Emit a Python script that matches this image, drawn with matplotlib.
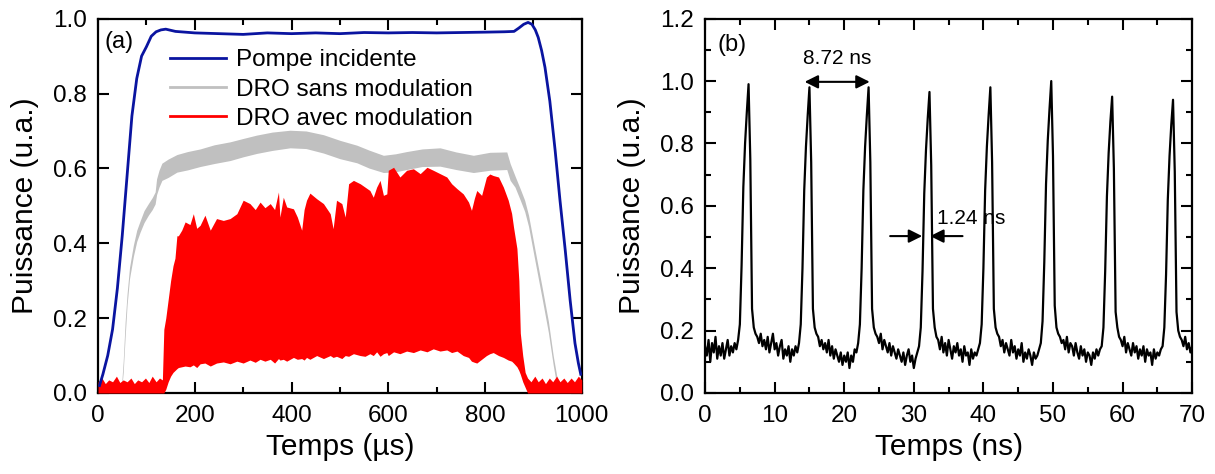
import numpy as np
import matplotlib
matplotlib.use('Agg')
import matplotlib.pyplot as plt
from matplotlib.lines import Line2D
from matplotlib.ticker import MultipleLocator, FormatStrFormatter

plt.rcParams['font.family'] = ['Liberation Sans', 'DejaVu Sans']

# ---------------- Panel (a) data ----------------
pump_t = [3, 10, 20, 30, 40, 50, 60, 70, 80, 90,
          100, 110, 120, 130, 140, 160, 200, 250, 300, 350,
          400, 450, 500, 550, 600, 650, 700, 750, 800, 840,
          860, 870, 880, 889, 897, 904, 910, 917, 924, 934,
          945, 955, 966, 976, 986, 993, 998]
pump_p = [0.02, 0.05, 0.1, 0.17, 0.28, 0.42, 0.58, 0.74, 0.84, 0.9,
          0.925, 0.953, 0.965, 0.97, 0.972, 0.966, 0.962, 0.96, 0.958, 0.962,
          0.96, 0.962, 0.96, 0.963, 0.962, 0.963, 0.962, 0.963, 0.964, 0.965,
          0.966, 0.975, 0.985, 0.99, 0.985, 0.97, 0.95, 0.915, 0.87, 0.78,
          0.648, 0.515, 0.38, 0.248, 0.133, 0.08, 0.05]

dro_t = [48, 52, 56, 60, 65, 73, 80, 87, 95, 104,
         112, 118, 121, 126, 132, 145, 163, 185, 211, 240,
         273, 300, 328, 360, 397, 430, 466, 500, 535, 560,
         590, 615, 638, 670, 707, 740, 776, 810, 845, 852,
         862, 873, 882, 890, 903, 917, 931, 941, 948, 953]
dro_lo = [0.0, 0.055, 0.15, 0.235, 0.305, 0.365, 0.405, 0.43, 0.455, 0.475,
          0.49, 0.505, 0.53, 0.55, 0.568, 0.576, 0.59, 0.596, 0.605, 0.613,
          0.621, 0.631, 0.64, 0.648, 0.655, 0.653, 0.641, 0.626, 0.615, 0.601,
          0.589, 0.591, 0.597, 0.605, 0.606, 0.597, 0.589, 0.595, 0.597, 0.568,
          0.55, 0.515, 0.485, 0.445, 0.355, 0.26, 0.162, 0.075, 0.022, 0.0]
dro_hi = [0.01, 0.085, 0.19, 0.265, 0.335, 0.395, 0.435, 0.46, 0.487, 0.506,
          0.522, 0.537, 0.572, 0.595, 0.614, 0.625, 0.637, 0.645, 0.652, 0.663,
          0.671, 0.68, 0.689, 0.697, 0.702, 0.7, 0.69, 0.675, 0.662, 0.649,
          0.635, 0.639, 0.645, 0.652, 0.655, 0.644, 0.635, 0.643, 0.644, 0.613,
          0.58, 0.545, 0.515, 0.475, 0.385, 0.29, 0.192, 0.1, 0.048, 0.012]

mod_t = [0, 8, 15, 22, 30, 38, 45, 52, 60, 68, 75, 82, 90, 98, 105, 112, 120, 127, 133,
         136, 140, 145, 150, 155, 159, 163,
         166, 173, 180, 190, 197, 204, 211, 221, 232, 245,
         259, 273, 287, 300, 314, 325, 335, 345, 356, 365,
         373, 376, 383, 390, 404, 412, 421, 426, 431, 438,
         452, 466, 480, 486, 493, 504, 511, 518, 528, 542,
         552, 562, 569, 576, 583, 590, 597, 600, 611, 624,
         638, 652, 666, 680, 693, 707, 721, 731, 742, 755,
         766, 772, 778, 783, 793, 803, 810, 817, 828, 838,
         848, 855, 859, 866, 870, 873, 878, 883, 888,
         895, 903, 910, 918, 925, 933, 940, 948, 955, 963, 970, 978, 985, 993, 1000]
mod_hi = [0.03, 0.04, 0.025, 0.035, 0.03, 0.045, 0.028, 0.035, 0.03, 0.04,
          0.025, 0.035, 0.03, 0.04, 0.028, 0.045, 0.03, 0.04, 0.035,
          0.17, 0.2, 0.25, 0.3, 0.34, 0.36, 0.42,
          0.42, 0.435, 0.457, 0.45, 0.479, 0.44, 0.448, 0.475, 0.435, 0.466,
          0.461, 0.466, 0.479, 0.515, 0.506, 0.49, 0.51, 0.495, 0.506, 0.49,
          0.537, 0.47, 0.523, 0.497, 0.492, 0.47, 0.435, 0.49, 0.515, 0.534,
          0.519, 0.506, 0.479, 0.439, 0.515, 0.506, 0.47, 0.559, 0.568, 0.559,
          0.55, 0.541, 0.523, 0.55, 0.568, 0.528, 0.532, 0.595, 0.603, 0.577,
          0.595, 0.599, 0.586, 0.603, 0.595, 0.586, 0.577, 0.559, 0.546, 0.532,
          0.51, 0.488, 0.52, 0.541, 0.528, 0.577, 0.585, 0.581, 0.577, 0.55,
          0.515, 0.48, 0.443, 0.386, 0.3, 0.16, 0.1, 0.055, 0.04,
          0.03, 0.045, 0.03, 0.04, 0.025, 0.04, 0.03, 0.045, 0.03, 0.04,
          0.028, 0.04, 0.03, 0.045, 0.035]
mod_lo = [0.0] * 19 + [
          0.0, 0.01, 0.03, 0.045, 0.055, 0.06, 0.065,
          0.068, 0.07, 0.072, 0.07, 0.075, 0.068, 0.078, 0.08, 0.072, 0.08,
          0.083, 0.078, 0.085, 0.08, 0.088, 0.082, 0.09, 0.085, 0.09, 0.08,
          0.092, 0.088, 0.09, 0.085, 0.095, 0.09, 0.092, 0.088, 0.095, 0.09,
          0.1, 0.092, 0.1, 0.095, 0.098, 0.092, 0.1, 0.098, 0.105, 0.1,
          0.098, 0.105, 0.1, 0.11, 0.098, 0.105, 0.108, 0.1, 0.11, 0.105,
          0.112, 0.108, 0.115, 0.11, 0.118, 0.112, 0.115, 0.108, 0.112, 0.1,
          0.095, 0.085, 0.082, 0.08, 0.09, 0.1, 0.105, 0.108, 0.1, 0.095,
          0.088, 0.085, 0.08, 0.07, 0.06, 0.05, 0.03, 0.015, 0.0] + [0.0] * 15

legend_labels = ['Pompe incidente', 'DRO sans modulation', 'DRO avec modulation']

# ---------------- Panel (b) data ----------------
pulse_step_ns = 0.25
pulse_p = [
    0.15, 0.12, 0.17, 0.10, 0.16, 0.13, 0.18, 0.11, 0.15, 0.12, 0.16, 0.11, 0.14, 0.17, 0.12, 0.15, 0.13, 0.16, 0.14,
    0.17, 0.22, 0.41, 0.66, 0.80, 0.90, 0.99, 0.75, 0.27, 0.21, 0.19,
    0.18, 0.16, 0.19, 0.15, 0.17, 0.14, 0.18, 0.13, 0.16, 0.19, 0.14, 0.16, 0.12, 0.15, 0.17, 0.11, 0.14, 0.12, 0.15, 0.10, 0.14, 0.12, 0.15, 0.13,
    0.16, 0.22, 0.40, 0.65, 0.79, 0.89, 0.98, 0.74, 0.27, 0.21, 0.19,
    0.18, 0.15, 0.17, 0.14, 0.16, 0.13, 0.17, 0.12, 0.15, 0.11, 0.14, 0.12, 0.10, 0.13, 0.09, 0.12, 0.10, 0.13, 0.08, 0.12, 0.10, 0.14, 0.13,
    0.16, 0.22, 0.40, 0.65, 0.79, 0.89, 0.98, 0.74, 0.27, 0.21, 0.19,
    0.18, 0.16, 0.19, 0.14, 0.17, 0.15, 0.13, 0.16, 0.12, 0.15, 0.13, 0.11, 0.14, 0.12, 0.10, 0.13, 0.09, 0.12, 0.14, 0.10, 0.12, 0.08, 0.11, 0.13,
    0.15, 0.21, 0.39, 0.64, 0.78, 0.88, 0.965, 0.73, 0.27, 0.21, 0.18,
    0.17, 0.14, 0.18, 0.13, 0.16, 0.12, 0.17, 0.14, 0.11, 0.15, 0.13, 0.16, 0.12, 0.14, 0.10, 0.15, 0.12, 0.13, 0.09, 0.14, 0.11, 0.13, 0.12, 0.14,
    0.16, 0.22, 0.40, 0.65, 0.79, 0.89, 0.98, 0.74, 0.27, 0.21, 0.19,
    0.18, 0.15, 0.17, 0.13, 0.16, 0.14, 0.12, 0.17, 0.13, 0.15, 0.11, 0.14, 0.12, 0.16, 0.10, 0.13, 0.11, 0.14, 0.12, 0.09, 0.13, 0.11, 0.12, 0.14,
    0.16, 0.23, 0.42, 0.67, 0.81, 0.91, 1.00, 0.76, 0.28, 0.21, 0.19,
    0.18, 0.16, 0.17, 0.14, 0.18, 0.13, 0.16, 0.15, 0.12, 0.16, 0.13, 0.11, 0.15, 0.12, 0.14, 0.10, 0.13, 0.12, 0.09, 0.13, 0.11, 0.14, 0.12, 0.14,
    0.15, 0.21, 0.39, 0.63, 0.77, 0.87, 0.95, 0.72, 0.26, 0.21, 0.18,
    0.17, 0.15, 0.18, 0.13, 0.16, 0.14, 0.12, 0.16, 0.13, 0.15, 0.11, 0.14, 0.12, 0.15, 0.10, 0.14, 0.12, 0.13, 0.09, 0.14, 0.11, 0.13, 0.12, 0.14,
    0.15, 0.21, 0.38, 0.62, 0.76, 0.86, 0.94, 0.71, 0.26, 0.20, 0.18,
    0.17, 0.15, 0.18, 0.14, 0.16, 0.13, 0.15,
]
pulse_t = pulse_step_ns * np.arange(len(pulse_p))

period_label = '8.72 ns'
width_label = '1.24 ns'

# ---------------- Figure ----------------
BLUE = '#0a14a0'
GRAY = '#c0c0c0'
RED = '#ff0000'

fig = plt.figure(figsize=(12.15, 4.74), dpi=100)
axA = fig.add_axes([0.0807, 0.1709, 0.3981, 0.7897])
axB = fig.add_axes([0.5803, 0.1709, 0.4009, 0.7897])

TICK_FS = 17.5
LABEL_FS = 21.5

def style_axes(ax):
    for s in ax.spines.values():
        s.set_linewidth(1.6)
    ax.tick_params(which='both', direction='in', top=True, right=True,
                   labelsize=TICK_FS, width=1.5)
    ax.tick_params(axis='x', which='both', pad=9)
    ax.tick_params(axis='y', which='both', pad=8)
    ax.tick_params(which='major', length=8)
    ax.tick_params(which='minor', length=4)

# Panel (a)
axA.fill_between(dro_t, dro_lo, dro_hi, color=GRAY, lw=0, zorder=2)
axA.fill_between(mod_t, mod_lo, mod_hi, color=RED, lw=0, zorder=3)
axA.plot(pump_t, pump_p, color=BLUE, lw=2.0, zorder=4)
axA.set_xlim(0, 1000)
axA.set_ylim(0, 1.0)
axA.xaxis.set_major_locator(MultipleLocator(200))
axA.xaxis.set_minor_locator(MultipleLocator(100))
axA.yaxis.set_major_locator(MultipleLocator(0.2))
axA.yaxis.set_major_formatter(FormatStrFormatter('%.1f'))
style_axes(axA)
axA.set_xlabel('Temps (µs)', fontsize=LABEL_FS, labelpad=4)
axA.set_ylabel('Puissance (u.a.)', fontsize=LABEL_FS, labelpad=10)
axA.text(14, 0.937, '(a)', fontsize=17, va='center', ha='left')
handles = [Line2D([], [], color=c, lw=2) for c in (BLUE, GRAY, RED)]
axA.legend(handles, legend_labels, loc='upper left', bbox_to_anchor=(0.149, 0.918),
           frameon=False, fontsize=17.5, handlelength=2.3, handletextpad=0.4,
           labelspacing=0.3, borderpad=0, borderaxespad=0)

# Panel (b)
axB.plot(pulse_t, pulse_p, color='black', lw=1.6)
axB.set_xlim(0, 70)
axB.set_ylim(0, 1.2)
axB.xaxis.set_major_locator(MultipleLocator(10))
axB.xaxis.set_minor_locator(MultipleLocator(5))
axB.yaxis.set_major_locator(MultipleLocator(0.2))
axB.yaxis.set_minor_locator(MultipleLocator(0.1))
axB.yaxis.set_major_formatter(FormatStrFormatter('%.1f'))
style_axes(axB)
axB.set_xlabel('Temps (ns)', fontsize=LABEL_FS, labelpad=4)
axB.set_ylabel('Puissance (u.a.)', fontsize=LABEL_FS, labelpad=10)
axB.text(1.8, 1.115, '(b)', fontsize=17, va='center', ha='left')

arrow_kw = dict(color='black', lw=1.5, shrinkA=0, shrinkB=0, mutation_scale=20)
axB.annotate('', xy=(23.66, 0.9975), xytext=(14.31, 0.9975),
             arrowprops=dict(arrowstyle='<|-|>', **arrow_kw))
axB.text(19.0, 1.072, period_label, fontsize=15, ha='center', va='center')
axB.annotate('', xy=(31.2, 0.503), xytext=(26.6, 0.503),
             arrowprops=dict(arrowstyle='-|>', **arrow_kw))
axB.annotate('', xy=(32.35, 0.503), xytext=(37.0, 0.503),
             arrowprops=dict(arrowstyle='-|>', **arrow_kw))
axB.text(33.4, 0.56, width_label, fontsize=15, ha='left', va='center')

fig.savefig('out.png', dpi=100)
